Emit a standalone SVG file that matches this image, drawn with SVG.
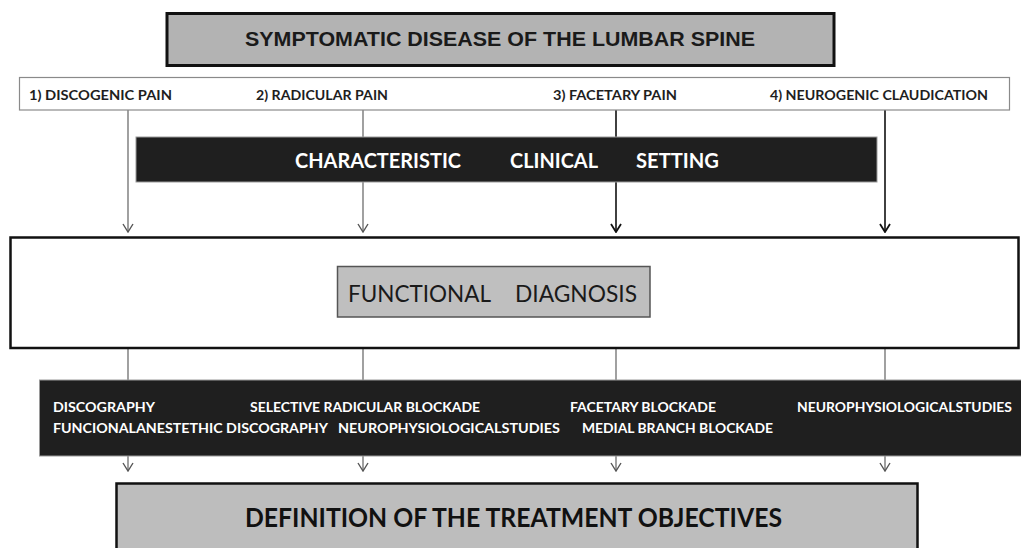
<svg xmlns="http://www.w3.org/2000/svg" width="1021" height="548" viewBox="0 0 1021 548">
<defs>
<style>
.t{font-family:Lato,"Open Sans","Liberation Sans",sans-serif;font-weight:bold}
.row{font-size:14px;fill:#1e1e1e}
.wb{font-size:14px;fill:#ffffff}
.ln{fill:none;stroke:#6e6e6e;stroke-width:1.3}
.lnd{fill:none;stroke:#111;stroke-width:1.6}
</style>
<marker id="ah" viewBox="0 0 10 12" refX="9" refY="6" markerWidth="10" markerHeight="12" markerUnits="userSpaceOnUse" orient="auto">
<path d="M1,1 L9,6 L1,11" fill="none" stroke="#555" stroke-width="1.4"/>
</marker>
<marker id="ahd" viewBox="0 0 10 12" refX="9" refY="6" markerWidth="10" markerHeight="12" markerUnits="userSpaceOnUse" orient="auto">
<path d="M1,1 L9,6 L1,11" fill="none" stroke="#111" stroke-width="1.8"/>
</marker>
</defs>
<rect width="1021" height="548" fill="#ffffff"/>

<g id="connectors">
<line class="ln" x1="128" y1="110" x2="128" y2="232" marker-end="url(#ah)"/>
<line class="ln" x1="363" y1="110" x2="363" y2="232" marker-end="url(#ah)"/>
<line class="lnd" x1="616" y1="110" x2="616" y2="232" marker-end="url(#ahd)"/>
<line class="lnd" x1="885" y1="110" x2="885" y2="232" marker-end="url(#ahd)"/>
<line class="ln" x1="128" y1="348" x2="128" y2="380"/>
<line class="ln" x1="363" y1="348" x2="363" y2="380"/>
<line class="ln" x1="616" y1="348" x2="616" y2="380"/>
<line class="ln" x1="885" y1="348" x2="885" y2="380"/>
<line class="ln" x1="128" y1="456" x2="128" y2="471" marker-end="url(#ah)"/>
<line class="ln" x1="363" y1="456" x2="363" y2="471" marker-end="url(#ah)"/>
<line class="ln" x1="616" y1="456" x2="616" y2="471" marker-end="url(#ah)"/>
<line class="ln" x1="885" y1="456" x2="885" y2="471" marker-end="url(#ah)"/>
</g>

<g id="title">
<rect x="167" y="13.5" width="667" height="52" fill="#b3b3b3" stroke="#111" stroke-width="3"/>
<text x="245" y="45.5" font-family="Liberation Sans,Arial,sans-serif" font-weight="bold" font-size="19.5" fill="#1a1a1a" textLength="510" lengthAdjust="spacingAndGlyphs">SYMPTOMATIC DISEASE OF THE LUMBAR SPINE</text>
</g>

<g id="pain-types">
<rect x="19.5" y="77.5" width="990" height="32.5" fill="#ffffff" stroke="#8a8a8a" stroke-width="1.2"/>
<text class="t row" x="29" y="100" textLength="143" lengthAdjust="spacingAndGlyphs">1)  DISCOGENIC PAIN</text>
<text class="t row" x="256" y="100" textLength="132" lengthAdjust="spacingAndGlyphs">2) RADICULAR PAIN</text>
<text class="t row" x="553" y="100" textLength="124" lengthAdjust="spacingAndGlyphs">3) FACETARY PAIN</text>
<text class="t row" x="770" y="100" textLength="218" lengthAdjust="spacingAndGlyphs">4) NEUROGENIC CLAUDICATION</text>
</g>

<g id="clinical-setting">
<rect x="136" y="137" width="741" height="45" fill="#1f1f1f" stroke="#9a9a9a" stroke-width="1"/>
<text class="t" x="295" y="168" font-size="20" fill="#ffffff" textLength="166" lengthAdjust="spacingAndGlyphs">CHARACTERISTIC</text>
<text class="t" x="510" y="168" font-size="20" fill="#ffffff" textLength="88" lengthAdjust="spacingAndGlyphs">CLINICAL</text>
<text class="t" x="636" y="168" font-size="20" fill="#ffffff" textLength="83" lengthAdjust="spacingAndGlyphs">SETTING</text>
</g>

<g id="functional-diagnosis">
<rect x="10.5" y="237.5" width="1008" height="110.5" fill="#ffffff" stroke="#111" stroke-width="2.5"/>
<rect x="337.5" y="266.5" width="312.5" height="50.5" fill="#bfbfbf" stroke="#555" stroke-width="1.5"/>
<text x="348" y="302" font-family="Lato,'Open Sans','Liberation Sans',sans-serif" font-size="23" fill="#1a1a1a" textLength="143" lengthAdjust="spacingAndGlyphs">FUNCTIONAL</text>
<text x="515" y="302" font-family="Lato,'Open Sans','Liberation Sans',sans-serif" font-size="23" fill="#1a1a1a" textLength="122" lengthAdjust="spacingAndGlyphs">DIAGNOSIS</text>
</g>

<g id="studies">
<rect x="39.5" y="380" width="984" height="76" fill="#1f1f1f" stroke="#9a9a9a" stroke-width="1"/>
<text class="t wb" x="53" y="412" textLength="102" lengthAdjust="spacingAndGlyphs">DISCOGRAPHY</text>
<text class="t wb" x="53" y="433" textLength="275" lengthAdjust="spacingAndGlyphs">FUNCIONALANESTETHIC DISCOGRAPHY</text>
<text class="t wb" x="250" y="412" textLength="230" lengthAdjust="spacingAndGlyphs">SELECTIVE RADICULAR BLOCKADE</text>
<text class="t wb" x="338" y="433" textLength="222" lengthAdjust="spacingAndGlyphs">NEUROPHYSIOLOGICALSTUDIES</text>
<text class="t wb" x="570" y="412" textLength="146" lengthAdjust="spacingAndGlyphs">FACETARY BLOCKADE</text>
<text class="t wb" x="582" y="433" textLength="191" lengthAdjust="spacingAndGlyphs">MEDIAL BRANCH BLOCKADE</text>
<text class="t wb" x="797" y="412" textLength="215" lengthAdjust="spacingAndGlyphs">NEUROPHYSIOLOGICALSTUDIES</text>
</g>

<g id="treatment-objectives">
<rect x="116.5" y="483.5" width="801" height="70" fill="#bdbdbd" stroke="#111" stroke-width="2.5"/>
<text class="t" x="245" y="527" font-size="26" fill="#111" textLength="537" lengthAdjust="spacingAndGlyphs">DEFINITION OF THE TREATMENT OBJECTIVES</text>
</g>
</svg>
